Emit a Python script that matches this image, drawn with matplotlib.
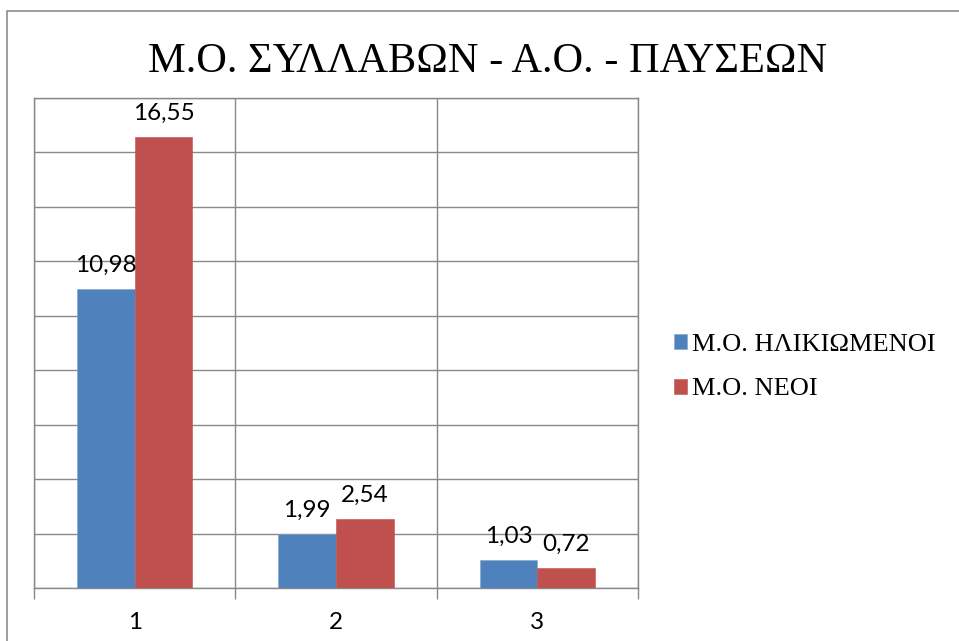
import matplotlib
matplotlib.use("Agg")
import matplotlib.pyplot as plt
import numpy as np
from matplotlib.patches import Rectangle

categories = ["1", "2", "3"]
elderly = [10.98, 1.99, 1.03]
young = [16.55, 2.54, 0.72]
series_names = ["Μ.Ο. ΗΛΙΚΙΩΜΕΝΟΙ", "Μ.Ο. ΝΕΟΙ"]
title = "Μ.Ο. ΣΥΛΛΑΒΩΝ - Α.Ο. - ΠΑΥΣΕΩΝ"
blue = "#4F81BD"
red = "#C0504D"
grid_c = "#898989"

W, H = 959, 641
fig = plt.figure(figsize=(W / 100, H / 100), dpi=100)
fig.patch.set_facecolor("white")

# outer chart frame (only left/top edges visible)
fig.patches.append(Rectangle((7 / W, -0.1), 1.2, 1 - 11 / H + 0.1, transform=fig.transFigure,
                             fill=False, edgecolor="#8c8c8c", lw=1.2))

ax = fig.add_axes([34 / W, 1 - 588 / H, (638 - 34) / W, (588 - 98) / H])
x = np.arange(1, len(categories) + 1)
bw = 0.2857
b1 = ax.bar(x - bw / 2, elderly, bw, color=blue, edgecolor="#7fa3d0", lw=0.4, zorder=3, label=series_names[0])
b2 = ax.bar(x + bw / 2, young, bw, color=red, edgecolor=red, lw=0.4, zorder=3, label=series_names[1])

lab_font = dict(family=["Lato", "DejaVu Sans"], fontsize=17.5, color="black")
for bars, vals in ((b1, elderly), (b2, young)):
    for r, v in zip(bars, vals):
        ax.annotate(f"{v:.2f}".replace(".", ","), (r.get_x() + r.get_width() / 2, v),
                    xytext=(0, 9.5), textcoords="offset points", ha="center", va="bottom", **lab_font)

ax.set_xlim(0.5, len(categories) + 0.5)
ax.set_ylim(0, 18)
ax.set_yticks(np.arange(0, 19, 2))
ax.set_yticklabels([])
ax.tick_params(axis="y", length=0)
ax.set_xticks(np.arange(0.5, len(categories) + 1, 1))
ax.set_xticklabels([])
ax.tick_params(axis="x", which="major", length=8, width=1.0, color=grid_c, direction="out")
ax.set_xticks(x, minor=True)
ax.set_xticklabels(categories, minor=True, **lab_font)
ax.tick_params(axis="x", which="minor", length=0, pad=17)
ax.grid(True, which="major", color=grid_c, lw=1.0, zorder=0)
for s in ax.spines.values():
    s.set_color(grid_c)
    s.set_linewidth(1.0)

fig.text(488 / W, 1 - 62 / H, title, ha="center", va="center",
         family=["Liberation Serif", "DejaVu Serif"], fontsize=30.5)

leg = fig.legend(handles=[b1, b2], labels=series_names, loc="upper left",
                 bbox_to_anchor=(674 / W, 1 - 334 / H), frameon=False,
                 prop=dict(family=["Liberation Serif", "DejaVu Serif"], size=19),
                 handlelength=0.5, handleheight=0.5, handletextpad=0.2, labelspacing=0.85,
                 borderaxespad=0, borderpad=0)

fig.savefig("out.png", dpi=100, facecolor="white")
